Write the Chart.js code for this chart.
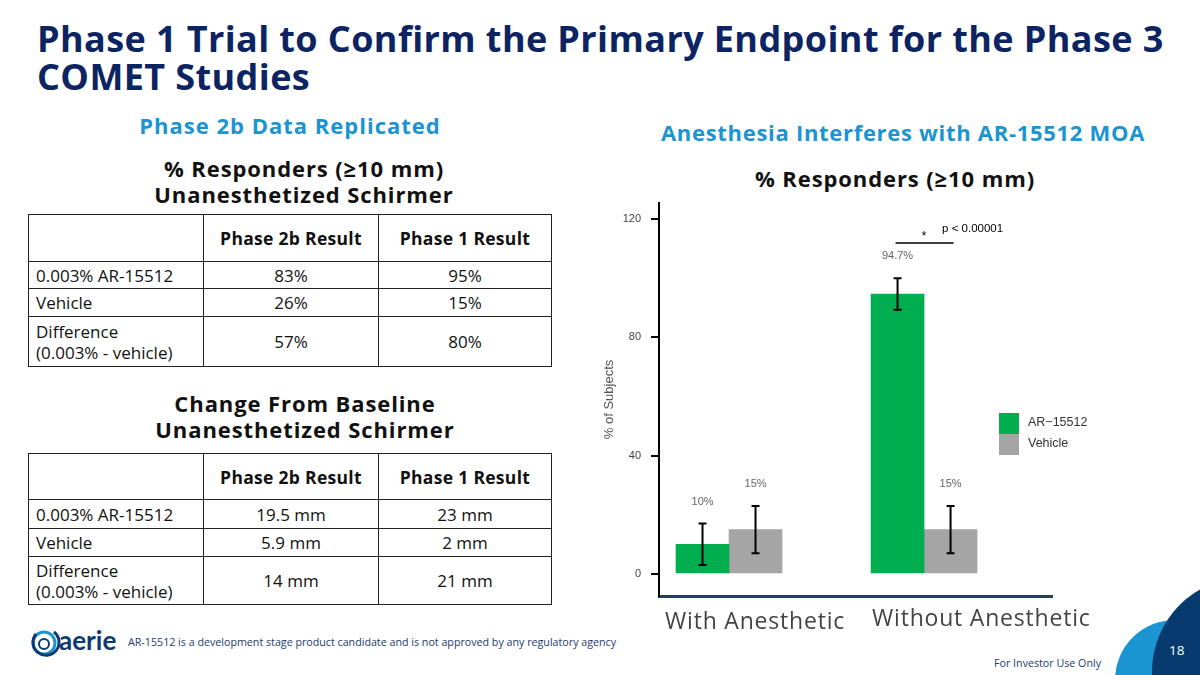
<!DOCTYPE html>
<html>
<head>
<meta charset="utf-8">
<script src="https://cdn.jsdelivr.net/npm/chart.js@4.4.1/dist/chart.umd.min.js"></script>
<style>
  html, body { margin: 0; padding: 0; background: #fff; }
  #slide { position: relative; width: 1200px; height: 675px; overflow: hidden; font-family: "Open Sans", Arial, sans-serif; }
  .abs { position: absolute; }
  .title { left: 37px; top: 20px; width: 1160px; font-size: 36px; letter-spacing: 0.4px; font-weight: 700; line-height: 38px; color: #0d2463; white-space: nowrap; }
  .sub { color: #1b94d2; font-weight: 700; font-size: 22px; line-height: 26px; text-align: center; white-space: nowrap; }
  .head { color: #111; font-weight: 700; font-size: 22px; line-height: 26px; letter-spacing: 0.9px; text-align: center; white-space: nowrap; }
  table { position: absolute; border-collapse: collapse; font-size: 17px; color: #111; table-layout: fixed; }
  td { border: 1.5px solid #222; padding: 0 7px; text-align: center; }
  td.l { text-align: left; line-height: 21px; }
  tr.h td { font-weight: 700; font-size: 17.5px; letter-spacing: 0.3px; }
  .cat { font-size: 23px; letter-spacing: 0.8px; color: #444; white-space: nowrap; line-height: 30px; }
  .foot { left: 128px; top: 635px; font-size: 10.7px; color: #1e3a6d; white-space: nowrap; }
  .inv { left: 994px; top: 656px; font-size: 10.7px; color: #1e3a6d; white-space: nowrap; }
  .circle { position: absolute; border-radius: 50%; }
</style>
</head>
<body>
<div id="slide">
  <div class="abs title">Phase 1 Trial to Confirm the Primary Endpoint for the Phase 3<br>COMET Studies</div>

  <div class="abs sub" style="left:90px; top:112px; width:400px; letter-spacing:1px;">Phase 2b Data Replicated</div>
  <div class="abs head" style="left:104px; top:155px; width:400px;">% Responders (≥10 mm)<br>Unanesthetized Schirmer</div>

  <table style="left:28px; top:214px; width:524px;">
    <colgroup><col style="width:175px"><col style="width:175px"><col></colgroup>
    <tr class="h" style="height:47px;"><td></td><td>Phase 2b Result</td><td>Phase 1 Result</td></tr>
    <tr style="height:27px;"><td class="l">0.003% AR-15512</td><td>83%</td><td>95%</td></tr>
    <tr style="height:28px;"><td class="l">Vehicle</td><td>26%</td><td>15%</td></tr>
    <tr style="height:50px;"><td class="l">Difference<br>(0.003% - vehicle)</td><td>57%</td><td>80%</td></tr>
  </table>

  <div class="abs head" style="left:105px; top:390px; width:400px;">Change From Baseline<br>Unanesthetized Schirmer</div>

  <table style="left:28px; top:453px; width:524px;">
    <colgroup><col style="width:175px"><col style="width:175px"><col></colgroup>
    <tr class="h" style="height:46px;"><td></td><td>Phase 2b Result</td><td>Phase 1 Result</td></tr>
    <tr style="height:29px;"><td class="l">0.003% AR-15512</td><td>19.5 mm</td><td>23 mm</td></tr>
    <tr style="height:28px;"><td class="l">Vehicle</td><td>5.9 mm</td><td>2 mm</td></tr>
    <tr style="height:48px;"><td class="l">Difference<br>(0.003% - vehicle)</td><td>14 mm</td><td>21 mm</td></tr>
  </table>

  <div class="abs sub" style="left:653px; top:119px; width:500px; letter-spacing:0.7px;">Anesthesia Interferes with AR-15512 MOA</div>
  <div class="abs head" style="left:695px; top:165px; width:400px;">% Responders (≥10 mm)</div>

  <canvas id="responderChart" class="abs" style="left:590px; top:195px;" width="520" height="410"></canvas>

  <!-- footer -->
  <svg class="abs" style="left:30px; top:626px;" width="95" height="32" viewBox="0 0 95 32">
    <circle cx="14" cy="17" r="11" fill="none" stroke="#1b94d2" stroke-width="3"/>
    <path d="M6 8 A13 13 0 1 0 24 6" fill="none" stroke="#0d3a72" stroke-width="3"/>
    <circle cx="14" cy="18" r="5" fill="none" stroke="#0d3a72" stroke-width="2"/>
    <text x="29" y="24" font-family="Lato, Arial" font-weight="700" font-size="26" fill="#0d3a72">aerie</text>
  </svg>
  <div class="abs foot">AR-15512 is a development stage product candidate and is not approved by any regulatory agency</div>
  <div class="circle" style="left:1115px; top:620px; width:120px; height:120px; background:#1b94d2;"></div>
  <div class="circle" style="left:1152px; top:577px; width:190px; height:190px; background:#073a6e;"></div>
  <div class="abs" style="left:1169px; top:641px; font-size:13.5px; color:#fff;">18</div>
  <div class="abs inv">For Investor Use Only</div>
</div>

<script>
const categories = ['With Anesthetic', 'Without Anesthetic'];
const seriesNames = ['AR\u221215512', 'Vehicle'];
const arValues = [10, 94.7];
const vehicleValues = [15, 15];
const arErrors = [7, 5.3];
const vehicleErrors = [8, 8];
const yTicks = [0, 40, 80, 120];
const pValueText = 'p < 0.00001';

const colors = ['#00ad4f', '#a5a5a5'];
const catPositions = categories.map(function (c, i) { return i + 1; });

// category captions sit under the chart as slide text
const catOffsets = [{ left: 665, top: 605 }, { left: 872, top: 602 }];
categories.forEach(function (c, i) {
    const el = document.createElement('div');
    el.className = 'abs cat';
    el.style.left = catOffsets[i].left + 'px';
    el.style.top = catOffsets[i].top + 'px';
    el.textContent = c;
    document.getElementById('slide').appendChild(el);
});

const errorPlugin = {
    id: 'errorBars',
    afterDatasetsDraw(chart) {
        const ctx = chart.ctx;
        const y = chart.scales.y;
        const errs = [arErrors, vehicleErrors];
        const vals = [arValues, vehicleValues];
        ctx.save();
        for (let d = 0; d < 2; d++) {
            const meta = chart.getDatasetMeta(d);
            meta.data.forEach(function (bar, i) {
                const top = y.getPixelForValue(vals[d][i] + errs[d][i]);
                const bot = y.getPixelForValue(vals[d][i] - errs[d][i]);
                ctx.strokeStyle = '#000';
                ctx.lineWidth = 2;
                ctx.beginPath();
                ctx.moveTo(bar.x, top); ctx.lineTo(bar.x, bot);
                ctx.moveTo(bar.x - 4, top); ctx.lineTo(bar.x + 4, top);
                ctx.moveTo(bar.x - 4, bot); ctx.lineTo(bar.x + 4, bot);
                ctx.stroke();
                ctx.fillStyle = '#666';
                ctx.font = '11px Arial';
                ctx.textAlign = 'center';
                ctx.textBaseline = 'middle';
                ctx.fillText(vals[d][i] + '%', bar.x, top - 22);
            });
        }
        // significance bracket over the second group
        const g = chart.getDatasetMeta(0).data[1];
        const v = chart.getDatasetMeta(1).data[1];
        const ly = y.getPixelForValue(112);
        ctx.strokeStyle = '#000';
        ctx.lineWidth = 1.5;
        ctx.beginPath();
        ctx.moveTo(g.x - 2, ly); ctx.lineTo(v.x + 3, ly);
        ctx.stroke();
        const mid = (g.x + v.x) / 2;
        ctx.fillStyle = '#000';
        ctx.font = '12px Arial';
        ctx.textAlign = 'center';
        ctx.fillText('*', mid, ly - 6);
        ctx.font = '11.5px Arial';
        ctx.textAlign = 'left';
        ctx.fillText(pValueText, mid + 18, ly - 14);

        // legend
        const lx = chart.chartArea.right - 53;
        const ty = chart.chartArea.top + 210;
        seriesNames.forEach(function (name, i) {
            ctx.fillStyle = colors[i];
            ctx.fillRect(lx, ty + i * 21, 20, 21);
            ctx.fillStyle = '#333';
            ctx.font = '12.5px Arial';
            ctx.textAlign = 'left';
            ctx.fillText(name, lx + 29, ty + i * 21 + 10);
        });
        ctx.restore();
    }
};

new Chart(document.getElementById('responderChart').getContext('2d'), {
    type: 'bar',
    data: {
        datasets: [{
            label: seriesNames[0],
            data: catPositions.map(function (x, i) { return { x: x, y: arValues[i] }; }),
            backgroundColor: colors[0]
        }, {
            label: seriesNames[1],
            data: catPositions.map(function (x, i) { return { x: x, y: vehicleValues[i] }; }),
            backgroundColor: colors[1]
        }]
    },
    options: {
        responsive: false,
        animation: false,
        barThickness: 53,
        layout: { padding: { top: 8, bottom: 9, left: 0, right: 58 } },
        scales: {
            x: {
                type: 'linear',
                offset: false,
                min: 0.641,
                max: 2.656,
                afterBuildTicks: function (scale) {
                    scale.ticks = catPositions.map(function (v) { return { value: v }; });
                },
                afterFit: function (scale) { scale.height = 0; },
                grid: { display: false },
                ticks: { display: false },
                border: { display: true, color: '#1f3e6e', width: 3 }
            },
            y: {
                min: -7.5,
                max: 125.5,
                afterBuildTicks: function (scale) {
                    scale.ticks = yTicks.map(function (v) { return { value: v }; });
                },
                afterFit: function (scale) {
                    scale.width = 69;
                    scale.paddingTop = 0;
                    scale.paddingBottom = 0;
                },
                grid: { display: true, drawOnChartArea: false, drawTicks: true, tickLength: 8, color: '#000', lineWidth: 2 },
                border: { display: true, color: '#000', width: 2 },
                ticks: { padding: 10, color: '#444', font: { family: 'Arial', size: 11 } },
                title: { display: true, text: '% of Subjects', color: '#555', padding: { top: 12, bottom: 0 }, font: { family: 'Arial', size: 13 } }
            }
        },
        plugins: {
            legend: { display: false },
            tooltip: { enabled: false }
        }
    },
    plugins: [errorPlugin]
});
</script>
</body>
</html>
